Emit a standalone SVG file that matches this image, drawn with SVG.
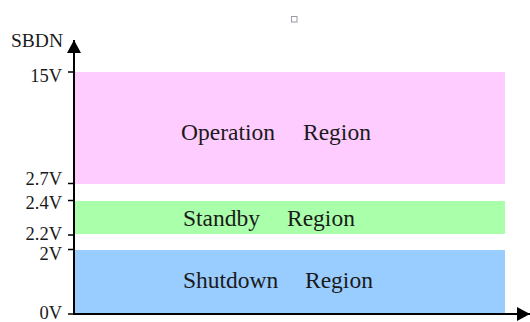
<svg xmlns="http://www.w3.org/2000/svg" width="530" height="322" viewBox="0 0 530 322">
  <style>
    .lbl { font-family: "Liberation Serif", "Times New Roman", serif; font-size: 18.5px; fill: #1a1a1a; text-anchor: end; }
    .reg { font-family: "Liberation Serif", "Times New Roman", serif; font-size: 23.5px; fill: #1a1a1a; }
    .axis { stroke: #000; stroke-width: 2; fill: none; }
    .tick { stroke: #000; stroke-width: 1.5; }
  </style>
  <defs>
    <marker id="arrow" markerUnits="userSpaceOnUse" markerWidth="15" markerHeight="15" refX="13" refY="7" orient="auto">
      <path d="M0,0 L13,7 L0,14 Z" fill="#000"/>
    </marker>
  </defs>
  <rect width="530" height="322" fill="#fff"/>
  <rect x="291.5" y="16.5" width="5.5" height="5.5" fill="#fff" stroke="#9a9aa8" stroke-width="1"/>

  <g id="operation">
    <rect x="75" y="72" width="430" height="112" fill="#FFCCFF"/>
    <text class="reg" y="139.5"><tspan x="181">Operation</tspan><tspan x="303">Region</tspan></text>
  </g>
  <g id="standby">
    <rect x="75" y="201" width="430" height="33" fill="#AAFFAA"/>
    <text class="reg" y="226"><tspan x="183">Standby</tspan><tspan x="287">Region</tspan></text>
  </g>
  <g id="shutdown">
    <rect x="75" y="250" width="430" height="64" fill="#99CCFF"/>
    <text class="reg" y="287.5"><tspan x="183">Shutdown</tspan><tspan x="305">Region</tspan></text>
  </g>

  <g id="connectors">
    <line class="axis" x1="74" y1="315" x2="74" y2="40" marker-end="url(#arrow)"/>
    <line class="axis" x1="73" y1="314" x2="530" y2="314" marker-end="url(#arrow)"/>
    <line class="tick" x1="68" y1="72" x2="74" y2="72"/>
    <line class="tick" x1="68" y1="183.5" x2="74" y2="183.5"/>
    <line class="tick" x1="68" y1="200.5" x2="74" y2="200.5"/>
    <line class="tick" x1="68" y1="235" x2="74" y2="235"/>
    <line class="tick" x1="68" y1="249.5" x2="74" y2="249.5"/>
    <line class="tick" x1="68" y1="314" x2="74" y2="314"/>
  </g>

  <g id="labels">
    <text class="lbl" x="63" y="47" style="font-size:19.5px">SBDN</text>
    <text class="lbl" x="62" y="81.5">15V</text>
    <text class="lbl" x="62" y="184.5">2.7V</text>
    <text class="lbl" x="62" y="209">2.4V</text>
    <text class="lbl" x="62" y="240">2.2V</text>
    <text class="lbl" x="62" y="260">2V</text>
    <text class="lbl" x="62" y="318.5">0V</text>
  </g>
</svg>
